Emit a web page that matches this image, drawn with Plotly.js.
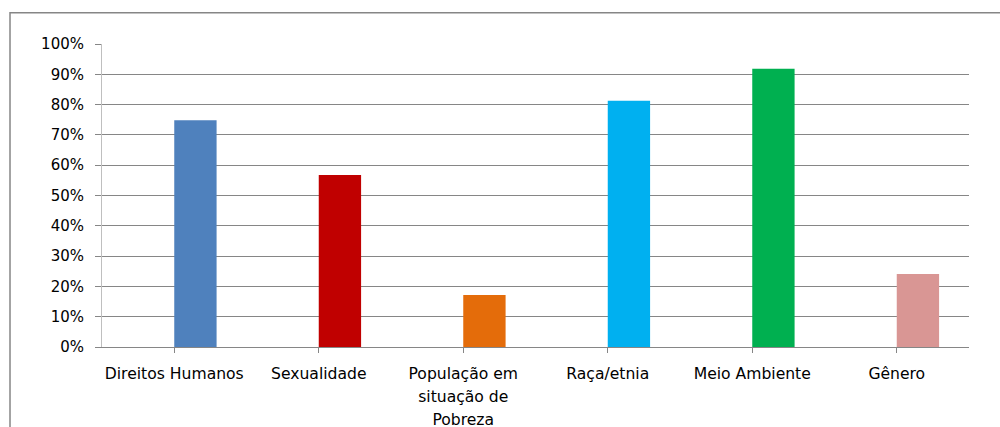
<!DOCTYPE html>
<html>
<head>
<meta charset="utf-8">
<script src="https://cdn.plot.ly/plotly-3.0.1.min.js"></script>
<style>html,body{margin:0;padding:0;background:#fff;}#chart{width:1000px;height:427px;}</style>
</head>
<body>
<div id="chart"></div>
<script>
const categories = ["Direitos Humanos", "Sexualidade", "População em<br>situação de<br>Pobreza", "Raça/etnia", "Meio Ambiente", "Gênero"];
const values = [0.748, 0.568, 0.172, 0.813, 0.918, 0.241];
const barColors = ["#4F81BD", "#C00000", "#E46C0A", "#00B0F0", "#00B050", "#D99694"];
const yTickVals = [0, 0.1, 0.2, 0.3, 0.4, 0.5, 0.6, 0.7, 0.8, 0.9, 1.0];
const yTickText = ["0%", "10%", "20%", "30%", "40%", "50%", "60%", "70%", "80%", "90%", "100%"];

const idx = categories.map((c, i) => i);
const tickText = categories.map(c => c.split("<br>").map(l => '<span style="font-size:15.6px">' + l + '</span>').join("<br>"));

const trace = {
  type: "bar",
  x: idx,
  y: values,
  width: 0.293,
  offset: 0,
  marker: {color: barColors, line: {width: 0}},
  hoverinfo: "skip"
};

const layout = {
  width: 1000, height: 427,
  margin: {l: 102, r: 31, t: 44, b: 80},
  paper_bgcolor: "#ffffff",
  plot_bgcolor: "#ffffff",
  showlegend: false,
  font: {family: "DejaVu Sans", color: "#000000", size: 15},
  xaxis: {
    range: [-0.5, 5.5],
    tickmode: "array",
    tickvals: idx,
    ticktext: tickText,
    tickfont: {family: "DejaVu Sans", size: 18, color: "#000000"},
    ticks: "outside",
    tickson: "boundaries",
    ticklen: 5,
    tickcolor: "#868686",
    ticklabelstandoff: 4,
    showgrid: false,
    showline: true,
    linecolor: "#868686",
    linewidth: 1,
    zeroline: false,
    fixedrange: true
  },
  yaxis: {
    range: [0, 1],
    tickmode: "array",
    tickvals: yTickVals,
    ticktext: yTickText,
    tickfont: {family: "DejaVu Sans", size: 15, color: "#000000"},
    ticks: "outside",
    ticklen: 6,
    tickcolor: "#868686",
    ticklabelstandoff: 8,
    showgrid: true,
    gridcolor: "#868686",
    gridwidth: 1,
    showline: true,
    linecolor: "#BFBFBF",
    linewidth: 1,
    zeroline: false,
    fixedrange: true
  },
  shapes: [{
    type: "rect", xref: "paper", yref: "paper",
    x0: -0.1061, x1: 1.05, y0: -0.3, y1: 1.1034,
    line: {color: "#868686", width: 1.5},
    fillcolor: "rgba(0,0,0,0)",
    layer: "below"
  }]
};

Plotly.newPlot("chart", [trace], layout, {displayModeBar: false, staticPlot: true});
</script>
</body>
</html>
